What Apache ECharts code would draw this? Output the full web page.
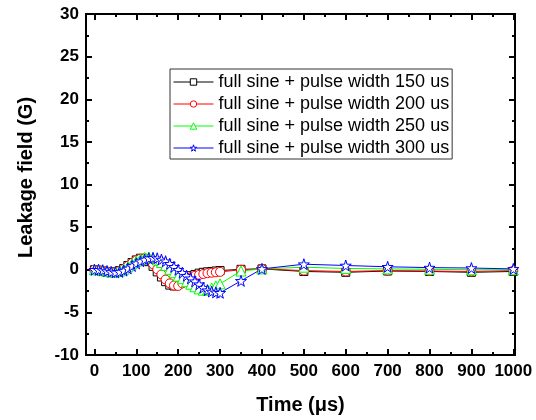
<!DOCTYPE html>
<html>
<head>
<meta charset="utf-8">
<script src="https://cdn.jsdelivr.net/npm/echarts@6/dist/echarts.min.js"></script>
<style>
  html, body { margin: 0; padding: 0; background: #fff; }
  #chart { width: 536px; height: 420px; }
</style>
</head>
<body>
<div id="chart"></div>
<script>
// Sample times (µs): dense every 10 µs up to 300, then sparse
const times = [0, 10, 20, 30, 40, 50, 60, 70, 80, 90, 100, 110, 120, 130, 140, 150,
  160, 170, 180, 190, 200, 210, 220, 230, 240, 250, 260, 270, 280, 290, 300,
  350, 400, 500, 600, 700, 800, 900, 1000];

// Leakage field (G) for each pulse width
const pw150 = [0, -0.05, -0.15, -0.25, -0.3, -0.25, -0.1, 0.15, 0.5, 0.85, 1.15, 1.35, 1.3, 0.95, 0.4, -0.25,
  -0.85, -1.4, -1.8, -1.9, -1.65, -1.25, -0.9, -0.7, -0.55, -0.4, -0.3, -0.25, -0.2, -0.15, -0.1,
  0.05, 0.1, -0.2, -0.3, -0.15, -0.2, -0.3, -0.2];
const pw200 = [0, -0.05, -0.15, -0.2, -0.3, -0.3, -0.15, 0.1, 0.45, 0.8, 1.1, 1.3, 1.35, 1.15, 0.65, 0.05,
  -0.55, -1.15, -1.6, -1.85, -1.9, -1.6, -1.2, -0.9, -0.7, -0.6, -0.5, -0.4, -0.35, -0.3, -0.25,
  0.0, 0.1, -0.1, -0.2, -0.1, -0.15, -0.2, -0.1];
const pw250 = [0, 0, -0.1, -0.2, -0.25, -0.25, -0.15, 0.05, 0.35, 0.7, 1.0, 1.25, 1.45, 1.5, 1.4, 1.15,
  0.85, 0.5, 0.05, -0.35, -0.75, -1.05, -1.4, -1.7, -2.0, -2.25, -2.4, -2.35, -2.15, -1.9, -1.65,
  -0.15, 0.1, 0.3, 0.15, 0.1, 0.05, 0, 0];
const pw300 = [0, 0, -0.05, -0.15, -0.25, -0.3, -0.25, -0.1, 0.15, 0.45, 0.75, 1.0, 1.2, 1.35, 1.4, 1.35,
  1.2, 1.0, 0.7, 0.35, 0, -0.35, -0.7, -1.0, -1.35, -1.7, -2.1, -2.4, -2.55, -2.65, -2.7,
  -1.3, 0.1, 0.65, 0.5, 0.35, 0.25, 0.2, 0.1];

const seriesNames = [
  'full sine + pulse width 150 us',
  'full sine + pulse width 200 us',
  'full sine + pulse width 250 us',
  'full sine + pulse width 300 us'
];
const seriesColors = ['#000000', '#ff0000', '#00ff00', '#0000ff'];

// Axis ticks
const xMajorTicks = [0, 100, 200, 300, 400, 500, 600, 700, 800, 900, 1000];
const xMinorTicks = [50, 150, 250, 350, 450, 550, 650, 750, 850, 950];
const yTicks = [-10, -5, 0, 5, 10, 15, 20, 25, 30];

const STAR = 'path://M50,0 L61,35 L98,35 L68,57 L79,91 L50,70 L21,91 L32,57 L2,35 L39,35 Z';
const FONT = 'Liberation Sans, Arial, sans-serif';

function pairs(vals) {
  return times.map((t, i) => [t, vals[i]]);
}

function xAxisDef(pos, ticks, len, labels, extra) {
  return Object.assign({
    type: 'value', position: pos, min: -20, max: 1004,
    axisLine: { show: true, onZero: false, lineStyle: { color: '#000', width: 2 } },
    axisTick: { show: true, inside: true, length: len, customValues: ticks, lineStyle: { color: '#000', width: 2 } },
    axisLabel: labels
      ? { show: true, customValues: ticks, formatter: v => String(v), color: '#000', fontFamily: FONT, fontWeight: 'bold', fontSize: 17, margin: 8 }
      : { show: false },
    splitLine: { show: false }
  }, extra || {});
}

function yAxisDef(pos, labels, extra) {
  return Object.assign({
    type: 'value', position: pos, min: yTicks[0], max: yTicks[yTicks.length - 1], interval: 5,
    axisLine: { show: true, onZero: false, lineStyle: { color: '#000', width: 2 } },
    axisTick: { show: true, inside: true, length: 6, lineStyle: { color: '#000', width: 2 } },
    minorTick: { show: true, splitNumber: 2, length: 3, lineStyle: { color: '#000', width: 2 } },
    axisLabel: labels
      ? { show: true, color: '#000', fontFamily: FONT, fontWeight: 'bold', fontSize: 17, margin: 7 }
      : { show: false },
    splitLine: { show: false }
  }, extra || {});
}

function lineSeries(name, vals, color, symbol, size) {
  return {
    name: name, type: 'line', data: pairs(vals),
    symbol: symbol, symbolSize: size, showAllSymbol: true,
    lineStyle: { color: color, width: 1 },
    itemStyle: { color: '#fff', borderColor: color, borderWidth: 1 },
    emphasis: { disabled: true },
    animation: false
  };
}

const chart = echarts.init(document.getElementById('chart'), null, { renderer: 'canvas' });
chart.setOption({
  backgroundColor: '#fff',
  animation: false,
  grid: { left: 86, top: 14, right: 21, bottom: 64 },
  xAxis: [
    xAxisDef('bottom', xMajorTicks, 6, true, {
      name: 'Time (μs)', nameLocation: 'middle', nameGap: 40,
      nameTextStyle: { color: '#000', fontFamily: FONT, fontWeight: 'bold', fontSize: 20 }
    }),
    xAxisDef('bottom', xMinorTicks, 3, false),
    xAxisDef('top', xMajorTicks, 6, false),
    xAxisDef('top', xMinorTicks, 3, false)
  ],
  yAxis: [
    yAxisDef('left', true, {
      name: 'Leakage field (G)', nameLocation: 'middle', nameGap: 50,
      nameTextStyle: { color: '#000', fontFamily: FONT, fontWeight: 'bold', fontSize: 20, padding: [0, 0, 0, 14] }
    }),
    yAxisDef('right', false)
  ],
  legend: {
    orient: 'vertical', left: 170, top: 69,
    padding: [4, 3, 2, 3], itemGap: 4, itemWidth: 40, itemHeight: 8,
    borderColor: '#333', borderWidth: 1, backgroundColor: '#fff',
    lineStyle: { width: 1 },
    textStyle: { color: '#000', fontFamily: FONT, fontSize: 18 },
    data: seriesNames.map((n, i) => ({
      name: n,
      itemStyle: { color: '#fff', borderColor: seriesColors[i], borderWidth: 1 }
    }))
  },
  series: [
    lineSeries(seriesNames[0], pw150, seriesColors[0], 'rect', 8),
    lineSeries(seriesNames[1], pw200, seriesColors[1], 'circle', 9),
    lineSeries(seriesNames[2], pw250, seriesColors[2], 'triangle', 10),
    lineSeries(seriesNames[3], pw300, seriesColors[3], STAR, 11)
  ]
});
</script>
</body>
</html>
